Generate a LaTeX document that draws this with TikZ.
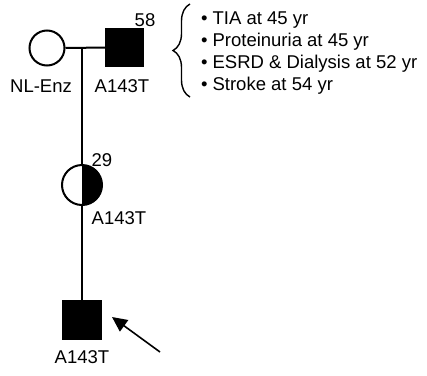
\documentclass[tikz,border=0pt]{standalone}
\usepackage{fontspec}
\setmainfont{Liberation Sans}
\usetikzlibrary{arrows.meta,positioning,decorations.pathreplacing}

\begin{document}
\begin{tikzpicture}[x=1pt,y=-1pt,line width=2pt,
 font=\fontsize{18.5}{22}\selectfont,
 male/.style={draw,rectangle,minimum size=37pt,inner sep=0pt},
 female/.style={draw,circle,minimum size=35pt,inner sep=0pt},
 affected/.style={fill=black},
 carrier/.style={path picture={\fill (path picture bounding box.north)
   rectangle (path picture bounding box.south east);}},
 tag/.style={inner sep=0pt},
 sign/.style={inner sep=0pt,anchor=west}]
 \useasboundingbox (0,0) rectangle (427,375);
 % generation I
 \node[female] (mother) at (47,48) {};
 \node[male,affected] (father) at (124.5,47.5) {};
 \coordinate (mate) at (82,48);
 \draw (mother) -- (father);
 \node[tag] (motherlbl) at (41,86) {NL-Enz};
 \node[tag] (fatherlbl) at (122,86) {A143T};
 \node[tag] (fatherage) at (145,20) {58};
 % symptoms of the father
 \draw[line width=1.4pt,decorate,decoration={brace,amplitude=17pt}]
  (190,97) -- (190,4);
 \node[sign] (s1) at (200,20) {\textbullet\ TIA at 45 yr};
 \node[sign] (s2) at (200,42) {\textbullet\ Proteinuria at 45 yr};
 \node[sign] (s3) at (200,64) {\textbullet\ ESRD \& Dialysis at 52 yr};
 \node[sign] (s4) at (200,86) {\textbullet\ Stroke at 54 yr};
 % generation II
 \node[female,carrier,minimum size=40pt] (daughter) at (82,185) {};
 \node[tag] (daughterage) at (102,160) {29};
 \node[tag] (daughterlbl) at (119,218) {A143T};
 % generation III
 \node[male,affected,minimum size=38pt] (proband) at (82,320) {};
 \node[tag] (probandlbl) at (82,357) {A143T};
 \draw (mate) -- (daughter) -- (proband);
 % proband pointer
 \coordinate (ptail) at (160,352);
 \coordinate (ptip) at (112,317);
 \draw[line width=1.6pt,-{Triangle[length=15pt,width=14pt]}] (ptail) -- (ptip);
\end{tikzpicture}
\end{document}
